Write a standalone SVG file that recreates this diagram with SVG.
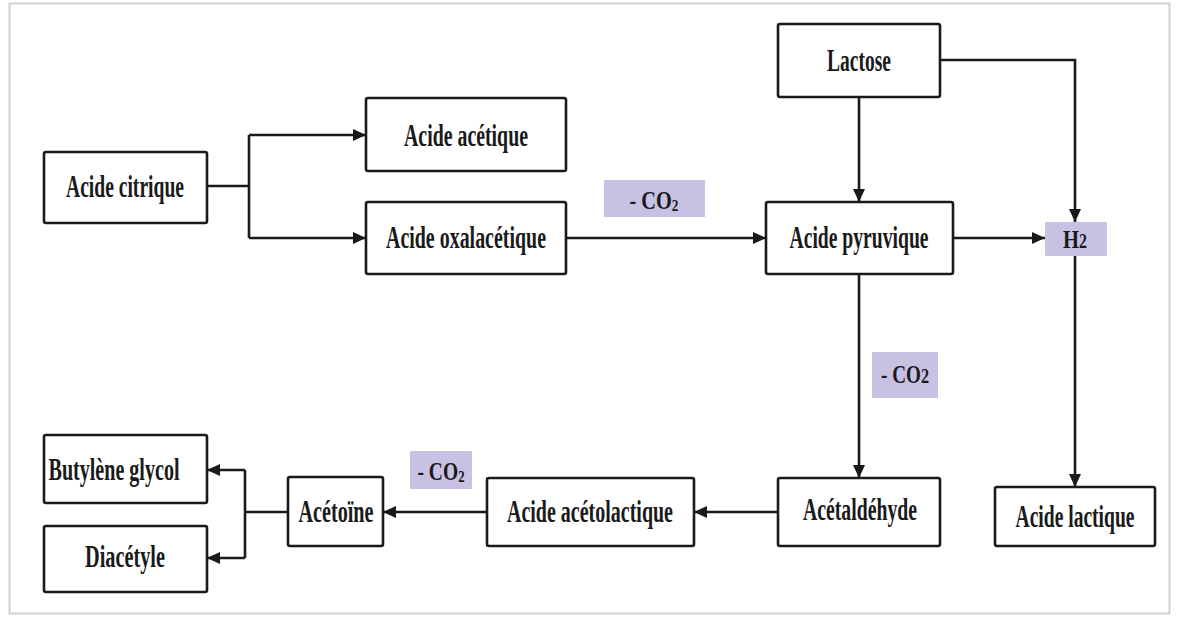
<svg xmlns="http://www.w3.org/2000/svg" width="1178" height="617" viewBox="0 0 1178 617">
<style>
.box{fill:#fff;stroke:#1a1a1a;stroke-width:2.6}
.lbl{fill:#c8c1e3;stroke:none}
.t{font-family:"Liberation Serif","Times New Roman",serif;font-weight:bold;font-size:31px;fill:#1a1a1a;text-anchor:middle}
.s{font-family:"Liberation Serif","Times New Roman",serif;font-weight:bold;font-size:26px;fill:#1a1a1a;text-anchor:middle}
.c{fill:none;stroke:#1a1a1a;stroke-width:2.6}
</style>
<defs>
<marker id="ah" markerUnits="userSpaceOnUse" markerWidth="14" markerHeight="12" refX="13" refY="6" orient="auto">
<path d="M0,0 L13,6 L0,12 Z" fill="#1a1a1a"/>
</marker>
</defs>
<rect x="9.5" y="3.5" width="1160" height="610" fill="#fff" stroke="#cfcfcf" stroke-width="2"/>
<g id="connectors">
<path class="c" d="M207,186 H249"/>
<path class="c" d="M249,135 V238"/>
<path class="c" d="M249,135 H366" marker-end="url(#ah)"/>
<path class="c" d="M249,238 H366" marker-end="url(#ah)"/>
<path class="c" d="M566,238 H766" marker-end="url(#ah)"/>
<path class="c" d="M859,97 V202" marker-end="url(#ah)"/>
<path class="c" d="M940,60 H1075 V222" marker-end="url(#ah)"/>
<path class="c" d="M953,238 H1045" marker-end="url(#ah)"/>
<path class="c" d="M1075,256 V487" marker-end="url(#ah)"/>
<path class="c" d="M859,274 V478" marker-end="url(#ah)"/>
<path class="c" d="M778,512 H694" marker-end="url(#ah)"/>
<path class="c" d="M487,512 H383" marker-end="url(#ah)"/>
<path class="c" d="M288,512 H245"/>
<path class="c" d="M245,470 V558"/>
<path class="c" d="M245,470 H207" marker-end="url(#ah)"/>
<path class="c" d="M245,558 H207" marker-end="url(#ah)"/>
</g>
<g id="acide-citrique"><rect class="box" x="44" y="152" width="163" height="71" rx="2"/><text class="t" x="125" y="197" textLength="118" lengthAdjust="spacingAndGlyphs">Acide citrique</text></g>
<g id="acide-acetique"><rect class="box" x="366" y="98" width="200" height="73" rx="2"/><text class="t" x="466" y="146" textLength="124" lengthAdjust="spacingAndGlyphs">Acide acétique</text></g>
<g id="acide-oxalacetique"><rect class="box" x="366" y="202" width="200" height="72" rx="2"/><text class="t" x="466" y="248" textLength="160" lengthAdjust="spacingAndGlyphs">Acide oxalacétique</text></g>
<g id="co2-top"><rect class="lbl" x="604" y="180" width="101" height="37"/><text class="s" x="654" y="209" textLength="49" lengthAdjust="spacingAndGlyphs">- CO<tspan font-size="17" dy="2">2</tspan></text></g>
<g id="lactose"><rect class="box" x="778" y="24" width="162" height="73" rx="2"/><text class="t" x="859" y="71" textLength="64" lengthAdjust="spacingAndGlyphs">Lactose</text></g>
<g id="acide-pyruvique"><rect class="box" x="766" y="202" width="187" height="72" rx="2"/><text class="t" x="859" y="248" textLength="139" lengthAdjust="spacingAndGlyphs">Acide pyruvique</text></g>
<g id="h2"><rect class="lbl" x="1045" y="222" width="62" height="34"/><text class="s" x="1075" y="248" textLength="24" lengthAdjust="spacingAndGlyphs">H<tspan font-size="20">2</tspan></text></g>
<g id="co2-mid"><rect class="lbl" x="872" y="352" width="66" height="46"/><text class="s" x="905" y="383" textLength="48" lengthAdjust="spacingAndGlyphs">- CO<tspan font-size="22">2</tspan></text></g>
<g id="acide-lactique"><rect class="box" x="995" y="487" width="160" height="59" rx="2"/><text class="t" x="1075" y="527" textLength="119" lengthAdjust="spacingAndGlyphs">Acide lactique</text></g>
<g id="acetaldehyde"><rect class="box" x="778" y="478" width="162" height="68" rx="2"/><text class="t" x="860" y="520" textLength="114" lengthAdjust="spacingAndGlyphs">Acétaldéhyde</text></g>
<g id="acide-acetolactique"><rect class="box" x="487" y="478" width="207" height="68" rx="2"/><text class="t" x="590" y="522" textLength="166" lengthAdjust="spacingAndGlyphs">Acide acétolactique</text></g>
<g id="co2-bottom"><rect class="lbl" x="410" y="451" width="62" height="38"/><text class="s" x="441" y="480" textLength="47" lengthAdjust="spacingAndGlyphs">- CO<tspan font-size="17" dy="2">2</tspan></text></g>
<g id="acetoine"><rect class="box" x="288" y="477" width="95" height="69" rx="2"/><text class="t" x="336" y="522" textLength="75" lengthAdjust="spacingAndGlyphs">Acétoïne</text></g>
<g id="butylene-glycol"><rect class="box" x="44" y="435" width="163" height="68" rx="2"/><text class="t" x="114" y="480" textLength="131" lengthAdjust="spacingAndGlyphs">Butylène glycol</text></g>
<g id="diacetyle"><rect class="box" x="44" y="526" width="163" height="66" rx="2"/><text class="t" x="125" y="567" textLength="80" lengthAdjust="spacingAndGlyphs">Diacétyle</text></g>
</svg>
